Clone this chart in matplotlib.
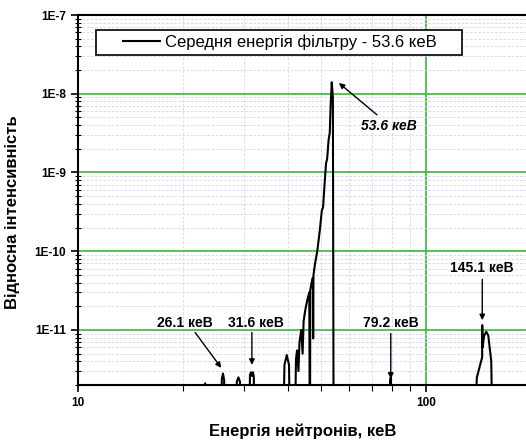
import numpy as np
import matplotlib.pyplot as plt
from matplotlib.patches import Rectangle
from matplotlib.ticker import LogLocator, FuncFormatter, NullFormatter

plt.rcParams['font.family'] = ['Liberation Sans', 'DejaVu Sans']

# spectrum (keV, relative intensity); 1e-13 = below the visible floor
energy = [20.0, 22.9, 23.2, 23.5, 25.6, 25.9, 26.1, 26.3, 26.5,
          28.3, 28.6, 28.9, 29.2, 29.5,
          30.9, 31.2, 31.4, 31.6, 31.8, 32.0, 32.3,
          38.6, 39.2, 39.8, 40.4, 40.8,
          41.8, 42.3, 42.6, 43.0, 43.3, 43.8, 44.2, 44.5, 45.0, 45.6,
          46.2, 46.4, 46.5, 46.9, 47.3, 47.4, 47.5, 48.0, 48.7, 49.5,
          50.2, 50.6, 51.1, 51.6, 52.0, 52.5, 52.9, 53.2, 53.6, 54.0, 54.3,
          78.5, 78.9, 79.2, 79.5,
          136.0, 140.0, 144.0, 145.0, 145.1, 145.3, 147.0, 149.0, 151.0, 154.0, 156.0, 190.0]
intensity = [1e-13, 1e-13, 2.1e-12, 1e-13, 1e-13, 2.4e-12, 2.8e-12, 2.3e-12, 1e-13,
             1e-13, 2.2e-12, 2.5e-12, 2.2e-12, 1e-13,
             1e-13, 2.7e-12, 2.9e-12, 2.6e-12, 2.9e-12, 2.6e-12, 1e-13,
             1e-13, 3.6e-12, 4.8e-12, 3.6e-12, 1e-13,
             1e-13, 4.2e-12, 5.5e-12, 3.0e-12, 7e-12, 1.0e-11, 5e-12, 1.3e-11, 1.8e-11, 2.4e-11,
             3.0e-11, 1e-13, 3.2e-11, 4.0e-11, 4.6e-11, 7.8e-12, 5.0e-11, 7.0e-11, 1.0e-10, 1.8e-10,
             3.3e-10, 3.6e-10, 7.0e-10, 1.3e-9, 1.5e-9, 2.6e-9, 3.2e-9, 7.0e-9, 1.4e-8, 9.0e-9, 1e-13,
             1e-13, 2.2e-12, 2.5e-12, 1e-13,
             1e-13, 2.5e-12, 4.0e-12, 4.5e-12, 1.15e-11, 6.0e-12, 8.5e-12, 9.5e-12, 8.5e-12, 4.0e-12, 1e-13, 1e-13]

peak_labels = ['26.1 кеВ', '31.6 кеВ', '53.6 кеВ', '79.2 кеВ', '145.1 кеВ']
# where each label sits and where its arrow runs (data coords)
label_pos = [(20.3, 1.23e-11), (32.4, 1.23e-11), (78.3, 3.9e-9), (79.2, 1.23e-11), (145.1, 6.1e-11)]
arrow_from = [(21.7, 9.3e-12), (31.6, 9.3e-12), (72.3, 5.4e-9), (79.2, 9.0e-12), (145.1, 4.4e-11)]
arrow_to = [(25.8, 3.3e-12), (31.6, 3.6e-12), (56.2, 1.37e-8), (79.2, 2.4e-12), (145.1, 1.33e-11)]

W, H = 526, 442
fig = plt.figure(figsize=(W / 100, H / 100), dpi=100)
ax = fig.add_axes([78 / W, 0.129, 522 / W, 0.837])

ax.plot(energy, intensity, color='black', linewidth=1.5,
        label='Середня енергія фільтру - 53.6 кеВ')

ax.set_xscale('log')
ax.set_yscale('log')
ax.set_xlim(10, 10 ** 2.5)
ax.set_ylim(2e-12, 1e-7)

ax.xaxis.set_major_locator(LogLocator(base=10, numticks=10))
ax.xaxis.set_minor_locator(LogLocator(base=10, subs=np.arange(2, 10), numticks=20))
ax.xaxis.set_minor_formatter(NullFormatter())
ax.yaxis.set_major_locator(LogLocator(base=10, numticks=10))
ax.yaxis.set_minor_locator(LogLocator(base=10, subs=np.arange(2, 10), numticks=20))
ax.yaxis.set_minor_formatter(NullFormatter())
ax.yaxis.set_major_formatter(FuncFormatter(lambda v, p: '1E%d' % round(np.log10(v))))
ax.xaxis.set_major_formatter(FuncFormatter(lambda v, p: '%d' % round(v)))

ax.grid(True, which='major', color='#3cb43c', linewidth=1.2)
ax.grid(True, which='minor', color='#d2d2f0', linewidth=0.6, linestyle=(0, (3, 2)))
ax.set_axisbelow(True)

ax.tick_params(axis='both', which='major', direction='out', length=5, width=1.2,
               labelsize=8.5)
ax.tick_params(axis='y', which='minor', direction='inout', length=5, width=0.8)
ax.tick_params(axis='x', which='minor', direction='out', length=4, width=0.8)
for lab in ax.get_xticklabels() + ax.get_yticklabels():
    lab.set_fontweight('bold')
for s in ['left', 'bottom', 'top']:
    ax.spines[s].set_linewidth(1.5)

ax.set_xlabel('Енергія нейтронів, кеВ', fontsize=12, fontweight='bold')
ax.xaxis.set_label_coords((303 - 78) / 522, (385 - 424) / 370)
ax.set_ylabel('Відносна інтенсивність', fontsize=12, fontweight='bold')
ax.yaxis.set_label_coords((20 - 78) / 522, (385 - 212) / 370)

# legend box drawn separately (Origin-style wide padding)
box = Rectangle((96 / W, 1 - 55 / H), (462 - 96) / W, 25 / H,
                transform=fig.transFigure, facecolor='white',
                edgecolor='black', linewidth=1.2, zorder=5, clip_on=False)
ax.add_patch(box)
leg = ax.legend(loc='center left', bbox_to_anchor=((123 - 78) / 522, (385 - 42.5) / 370),
                borderaxespad=0, borderpad=0, fontsize=12, frameon=False,
                handlelength=2.2, handletextpad=0.3)
leg.set_zorder(6)

for i, txt in enumerate(peak_labels):
    style = 'italic' if i == 2 else 'normal'
    ax.text(label_pos[i][0], label_pos[i][1], txt, fontsize=10, fontweight='bold',
            style=style, ha='center', va='center')
    ax.annotate('', xy=arrow_to[i], xytext=arrow_from[i],
                arrowprops=dict(arrowstyle='-|>', color='black', linewidth=1.0,
                                mutation_scale=8, shrinkA=0, shrinkB=0))

fig.savefig('out.png', dpi=100)
